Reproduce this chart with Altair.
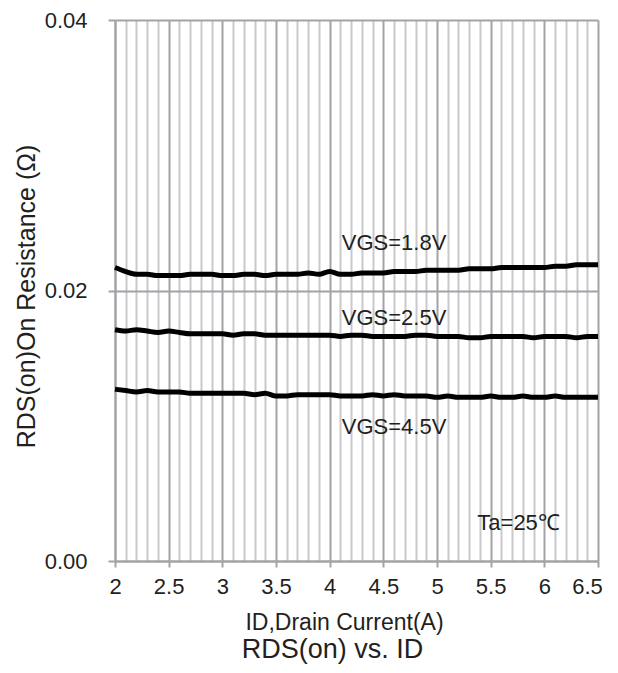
import altair as alt
import pandas as pd

current = [round(2.0 + 0.1 * i, 1) for i in range(46)]

vgs18 = [0.0217, 0.0214, 0.0212, 0.0212, 0.0211, 0.0211, 0.0211, 0.0212, 0.0212, 0.0212,
         0.0211, 0.0211, 0.0212, 0.0212, 0.0211, 0.0212, 0.0212, 0.0212, 0.0213, 0.0212,
         0.0214, 0.0212, 0.0212, 0.0213, 0.0213, 0.0213, 0.0214, 0.0214, 0.0214, 0.0215,
         0.0215, 0.0215, 0.0215, 0.0216, 0.0216, 0.0216, 0.0217, 0.0217, 0.0217, 0.0217,
         0.0217, 0.0218, 0.0218, 0.0219, 0.0219, 0.0219]
vgs25 = [0.0171, 0.0170, 0.0171, 0.0170, 0.0169, 0.0170, 0.0169, 0.0168, 0.0168, 0.0168,
         0.0168, 0.0167, 0.0168, 0.0168, 0.0167, 0.0167, 0.0167, 0.0167, 0.0167, 0.0167,
         0.0167, 0.0166, 0.0167, 0.0167, 0.0166, 0.0166, 0.0166, 0.0166, 0.0167, 0.0167,
         0.0166, 0.0166, 0.0166, 0.0165, 0.0165, 0.0166, 0.0166, 0.0166, 0.0166, 0.0165,
         0.0166, 0.0166, 0.0166, 0.0165, 0.0166, 0.0166]
vgs45 = [0.0127, 0.0126, 0.0125, 0.0126, 0.0125, 0.0125, 0.0125, 0.0124, 0.0124, 0.0124,
         0.0124, 0.0124, 0.0124, 0.0123, 0.0124, 0.0122, 0.0122, 0.0123, 0.0123, 0.0123,
         0.0123, 0.0122, 0.0122, 0.0122, 0.0123, 0.0122, 0.0123, 0.0122, 0.0122, 0.0122,
         0.0121, 0.0122, 0.0121, 0.0121, 0.0121, 0.0122, 0.0121, 0.0121, 0.0122, 0.0121,
         0.0121, 0.0122, 0.0121, 0.0121, 0.0121, 0.0121]

series_names = ["VGS=1.8V", "VGS=2.5V", "VGS=4.5V"]
x_ticks = current
y_ticks = [0.0, 0.02, 0.04]

label_text = ["VGS=1.8V", "VGS=2.5V", "VGS=4.5V", "Ta=25℃"]
label_x = [4.60, 4.60, 4.60, 5.76]
label_y = [0.0235, 0.0180, 0.0099, 0.0028]

rows = []
for name, vals in zip(series_names, [vgs18, vgs25, vgs45]):
    for xv, yv in zip(current, vals):
        rows.append({"series": name, "id": xv, "rds": yv})
df = pd.DataFrame(rows)
ann = pd.DataFrame({"text": label_text, "x": label_x, "y": label_y})

FONT = "Liberation Sans"
INK = "#231f20"
major = "round(datum.value*10) % 5 == 0"

x_scale = alt.Scale(domain=[2, 6.5], nice=False, zero=False)
y_scale = alt.Scale(domain=[0, 0.04], nice=False)

x_axis = alt.Axis(
    values=x_ticks,
    labelExpr="round(datum.value*10) % 5 == 0 ? format(datum.value, '~g') : ''",
    grid=True,
    gridColor={"condition": {"test": major, "value": "#a3a3a7"}, "value": "#c9c9cd"},
    gridWidth=2,
    tickOpacity={"condition": {"test": major, "value": 1}, "value": 0},
    tickColor="#a3a3a7",
    tickWidth=2,
    tickSize=6,
    domainColor="#a3a3a7",
    domainWidth=2,
    labelFont=FONT,
    labelFontSize=22,
    labelColor=INK,
    labelPadding=9,
    labelOffset={"condition": {"test": "datum.value > 6.45", "value": -11}, "value": 0},
    labelFlush=False,
    labelOverlap=False,
    title="ID,Drain Current(A)",
    titleFont=FONT,
    titleFontSize=23,
    titleFontWeight="normal",
    titleColor=INK,
    titlePadding=14,
    titleX=229,
)

y_axis = alt.Axis(
    values=y_ticks,
    format=".2f",
    grid=True,
    gridColor="#a3a3a7",
    gridWidth=2,
    tickColor="#a3a3a7",
    tickWidth=2,
    tickSize=7,
    domainColor="#a3a3a7",
    domainWidth=2,
    labelFont=FONT,
    labelFontSize=22,
    labelColor=INK,
    labelPadding=21,
    title="RDS(on)On Resistance (Ω)",
    titleFont=FONT,
    titleFontSize=25,
    titleFontWeight="normal",
    titleColor=INK,
    titlePadding=5,
    titleY=276,
)

lines = alt.Chart(df).mark_line(color="black", strokeWidth=5, interpolate="monotone").encode(
    x=alt.X("id:Q", scale=x_scale, axis=x_axis),
    y=alt.Y("rds:Q", scale=y_scale, axis=y_axis),
    detail="series:N",
)

texts = alt.Chart(ann).mark_text(font=FONT, fontSize=22, color=INK, align="center", baseline="middle").encode(
    x=alt.X("x:Q", scale=x_scale, axis=x_axis),
    y=alt.Y("y:Q", scale=y_scale, axis=y_axis),
    text="text:N",
)

chart = alt.layer(lines, texts).properties(
    width=483,
    height=541,
    autosize="none",
    padding={"left": 107, "top": 12, "right": 12, "bottom": 104},
    title=alt.TitleParams(
        "RDS(on) vs. ID",
        orient="bottom",
        anchor="middle",
        font=FONT,
        fontSize=27,
        fontWeight="normal",
        color=INK,
        offset=3,
        dx=-24,
    ),
).configure_view(stroke=None)

chart.save("out.html", embed_options={"renderer": "svg", "actions": False})
